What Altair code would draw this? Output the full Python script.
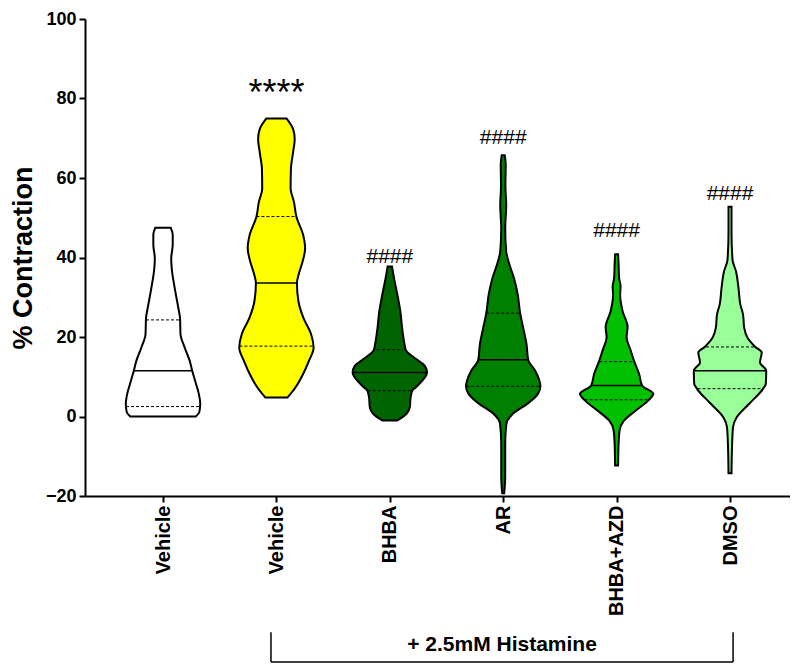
import altair as alt
import pandas as pd

FONT = "Liberation Sans"

groups = ["g1", "g2", "g3", "g4", "g5", "g6"]
positions = [1, 2, 3, 4, 5, 6]
labels = ["Vehicle", "Vehicle", "BHBA", "AR", "BHBA+AZD", "DMSO"]
fills = ["#FFFFFF", "#FFFF00", "#006400", "#008000", "#00C000", "#99FF99"]

# Violin outlines: % contraction and half-width (reference pixels)
g1_val = [0, 1.1, 3.2, 5.7, 8.2, 11.5, 14, 17.3, 20.7, 24.8, 27.3, 32.3, 37.3, 39.8, 43.2, 45.7, 47.5]
g1_hw = [32.8, 36.3, 37.2, 35.8, 33, 29.2, 26.7, 21.7, 17.5, 17, 15.3, 11.7, 8.7, 8.2, 9.7, 9.7, 7.7]

g2_val = [4.8, 7.3, 10.7, 14, 17.3, 20.7, 24.8, 29, 33.6, 35.7, 39, 42.3, 45.7, 50.25, 54, 57.3, 62.3, 66.5, 69.8, 72.3, 75]
g2_hw = [11.2, 19, 26.7, 32.5, 37.2, 34.7, 27, 22, 20.5, 22.2, 26.2, 28.7, 26.7, 20, 17.5, 14.2, 14.5, 16.7, 18.3, 16.7, 10]

g3_val = [-1, 0.7, 2.3, 4.8, 6.5, 7.3, 9, 11.1, 12.75, 14.4, 16.7, 18.2, 22.3, 26.5, 30.7, 34.8, 37.75]
g3_hw = [7.5, 16.7, 20, 20.8, 22.5, 25.8, 32.5, 37.2, 35, 26.7, 16, 14.7, 12.3, 10.5, 7.5, 4.2, 2.2]

g4_val = [-19.3, -15.2, -6.8, -1.8, 0.7, 3.2, 5.7, 7.6, 9, 11.5, 14.2, 18.2, 22.3, 25.9, 30.7, 34.8, 38.2, 41.5, 47.3, 53.2, 58, 63.5, 65.7]
g4_hw = [1, 2, 2, 3.2, 9.7, 24.2, 34.7, 37.2, 36.2, 32, 25, 23.3, 20, 17, 14.5, 10.8, 6.3, 3, 2, 3, 2.2, 2.5, 1.5]

g5_val = [-12.3, -6.8, -3.5, -1, 1.5, 4.2, 5.7, 7.75, 10.7, 13.8, 16.5, 20, 22.5, 26.5, 30.7, 32.75, 34.8, 38.2, 40.8]
g5_hw = [1.5, 2, 3, 7.5, 19.2, 32.3, 36.7, 25.5, 22.5, 17.7, 14.2, 10, 11, 6, 3.5, 4, 2.5, 2, 1.5]

g6_val = [-14.3, -7.7, -2.7, -0.2, 3.2, 6.9, 8.2, 11.5, 13.6, 16.1, 17.5, 19.8, 22.3, 25.7, 28.2, 32.3, 36.5, 39.4, 46.5, 52.75]
g6_hw = [1.5, 2, 3, 6.7, 19.2, 32.8, 35.8, 36.2, 30, 31.7, 25.3, 17.5, 14.2, 13, 10.3, 8.5, 6, 2.5, 1.5, 1.5]

# Quartiles (value, half-width)
q1_val = [2.5, 17.7, 6.5, 7.6, 4.2, 7.0]
q1_hw = [37, 37, 22, 37, 32, 32.5]
med_val = [11.5, 33.6, 11.1, 14.3, 7.8, 11.5]
med_hw = [29, 20.5, 37, 25, 25.5, 36]
q3_val = [24.3, 50.3, 16.8, 26.0, 13.8, 17.5]
q3_hw = [17, 20, 13, 17, 17.5, 24]

# significance marks
sig_text = ["****", "####", "####", "####", "####"]
sig_pos = [2, 3, 4, 5, 6]
sig_val = [78.25, 38.5, 68.5, 45.25, 54.5]

bracket_x = [1.952, 6.027]
bracket_y = [-54.25, -61.75]
bracket_label = "+ 2.5mM Histamine"
bracket_label_val = -57.6

PX_PER_GROUP = 113.4  # reference pixels per category step

vals = [g1_val, g2_val, g3_val, g4_val, g5_val, g6_val]
hws = [g1_hw, g2_hw, g3_hw, g4_hw, g5_hw, g6_hw]

rows = []
for g, p, v, h in zip(groups, positions, vals, hws):
    for vv, hh in zip(v, h):
        rows.append({"group": g, "value": vv, "lo": p - hh / PX_PER_GROUP,
                     "hi": p + hh / PX_PER_GROUP})
vdf = pd.DataFrame(rows)

qrows = []
for g, p, a, ah, m, mh, b, bh in zip(groups, positions, q1_val, q1_hw, med_val, med_hw, q3_val, q3_hw):
    qrows.append({"group": g, "value": a, "lo": p - ah / PX_PER_GROUP, "hi": p + ah / PX_PER_GROUP, "kind": "q"})
    qrows.append({"group": g, "value": m, "lo": p - mh / PX_PER_GROUP, "hi": p + mh / PX_PER_GROUP, "kind": "med"})
    qrows.append({"group": g, "value": b, "lo": p - bh / PX_PER_GROUP, "hi": p + bh / PX_PER_GROUP, "kind": "q"})
qdf = pd.DataFrame(qrows)

sdf = pd.DataFrame({"text": sig_text, "lo": sig_pos, "value": sig_val})

bdf = pd.DataFrame([
    {"lo": bracket_x[0], "hi": bracket_x[1], "value": bracket_y[1], "value2": bracket_y[1]},
    {"lo": bracket_x[0], "hi": bracket_x[0], "value": bracket_y[0], "value2": bracket_y[1]},
    {"lo": bracket_x[1], "hi": bracket_x[1], "value": bracket_y[0], "value2": bracket_y[1]},
])
ldf = pd.DataFrame({"text": [bracket_label], "lo": [(bracket_x[0] + bracket_x[1]) / 2], "value": [bracket_label_val]})

label_expr = "['', " + ", ".join("'%s'" % l for l in labels) + "][datum.value]"

xscale = alt.Scale(domain=[0.312, 6.529], nice=False, zero=False)
yscale = alt.Scale(domain=[-20, 100], nice=False, zero=False)

xaxis = alt.Axis(values=positions, labelExpr=label_expr, labelAngle=-90, labelFontSize=20,
                 labelFontWeight="bold", labelFont=FONT, labelColor="black", tickSize=6,
                 tickWidth=2, tickColor="black", domainColor="black", domainWidth=2,
                 grid=False, title=None, labelPadding=3, labelOverlap=False, labelFlush=False)
yaxis = alt.Axis(values=[-20, 0, 20, 40, 60, 80, 100], title="% Contraction", titleFontSize=27,
                 titleFont=FONT, titleFontWeight="bold", titleColor="black", labelFontSize=18,
                 labelFont=FONT, labelFontWeight="bold", labelColor="black", tickSize=6, tickWidth=2,
                 tickColor="black", domainColor="black", domainWidth=2, grid=False,
                 labelPadding=3, titlePadding=8)

X = lambda f: alt.X(f, type="quantitative", scale=xscale, axis=xaxis)
Y = lambda f: alt.Y(f, type="quantitative", scale=yscale, axis=yaxis)

violins = alt.Chart(vdf).mark_area(orient="horizontal", interpolate="monotone", stroke="black",
                                   strokeWidth=2).encode(
    y=Y("value"), x=X("lo"), x2="hi",
    color=alt.Color("group:N", scale=alt.Scale(domain=groups, range=fills), legend=None),
    detail="group:N",
)

med = alt.Chart(qdf).transform_filter("datum.kind == 'med'").mark_rule(color="black", strokeWidth=1.5).encode(
    y=Y("value"), x=X("lo"), x2="hi")
quart = alt.Chart(qdf).transform_filter("datum.kind == 'q'").mark_rule(color="black", strokeWidth=1,
                                                                       strokeDash=[3, 2]).encode(
    y=Y("value"), x=X("lo"), x2="hi")

stars = alt.Chart(sdf).transform_filter("datum.text == '****'").mark_text(
    font=FONT, fontSize=36, baseline="alphabetic", align="center", color="black").encode(
    x=X("lo"), y=Y("value"), text="text:N")
hashes = alt.Chart(sdf).transform_filter("datum.text != '****'").mark_text(
    font=FONT, fontSize=21, baseline="alphabetic", align="center", color="black").encode(
    x=X("lo"), y=Y("value"), text="text:N")

bracket = alt.Chart(bdf).mark_rule(color="black", strokeWidth=1.5, clip=False).encode(
    x=X("lo"), x2="hi", y=Y("value"), y2="value2")
blabel = alt.Chart(ldf).mark_text(font=FONT, fontSize=21, fontWeight="bold", baseline="middle",
                                  align="center", color="black", clip=False).encode(
    x=X("lo"), y=Y("value"), text="text:N")

chart = alt.layer(violins, med, quart, stars, hashes, bracket, blabel).properties(
    width=705, height=477, autosize="none",
    padding={"left": 77, "top": 11, "right": 0, "bottom": 170},
    background="white",
).configure_view(stroke=None)

chart.save("out.html", embed_options={"renderer": "svg", "actions": False})
